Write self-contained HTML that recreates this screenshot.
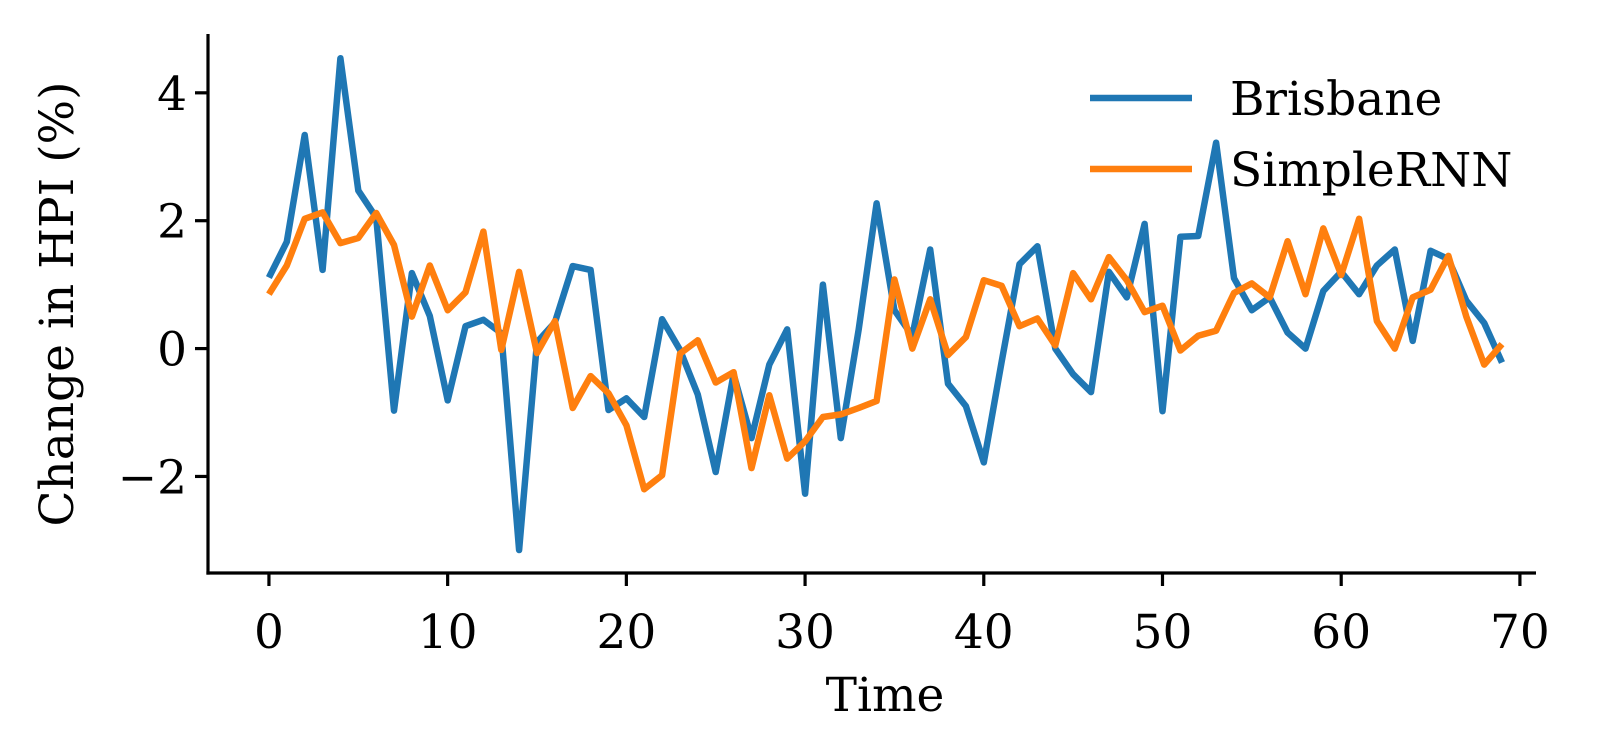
<!DOCTYPE html>
<html><head><meta charset="utf-8"><style>
html,body{margin:0;padding:0;background:#fff;}
svg{display:block;font-family:"DejaVu Serif","Liberation Serif",serif;}
</style></head><body>
<svg id="chart" width="1598" height="756" viewBox="0 0 1598 756" xmlns="http://www.w3.org/2000/svg"></svg>
<script>
const timeSteps = Array.from({length:70},(_,i)=>i);
const brisbane = [1.11,1.67,3.34,1.23,4.54,2.47,2.05,-0.97,1.18,0.51,-0.81,0.35,0.45,0.24,-3.15,0.1,0.41,1.29,1.23,-0.96,-0.78,-1.07,0.46,-0.02,-0.72,-1.93,-0.4,-1.4,-0.25,0.3,-2.27,1.0,-1.4,0.3,2.27,0.6,0.2,1.55,-0.55,-0.9,-1.78,-0.2,1.32,1.6,0.0,-0.4,-0.68,1.2,0.8,1.95,-0.98,1.75,1.76,3.22,1.1,0.6,0.8,0.25,0.0,0.9,1.2,0.85,1.3,1.55,0.12,1.53,1.4,0.75,0.4,-0.22];
const simpleRNN = [0.85,1.3,2.03,2.13,1.65,1.73,2.12,1.62,0.5,1.3,0.6,0.88,1.83,-0.02,1.2,-0.07,0.43,-0.93,-0.43,-0.7,-1.2,-2.2,-1.98,-0.08,0.13,-0.53,-0.37,-1.87,-0.73,-1.72,-1.45,-1.07,-1.03,-0.93,-0.82,1.08,0.0,0.77,-0.1,0.18,1.07,0.98,0.35,0.47,0.05,1.18,0.77,1.43,1.07,0.57,0.67,-0.03,0.2,0.28,0.87,1.02,0.8,1.68,0.85,1.88,1.15,2.03,0.43,0.0,0.8,0.92,1.45,0.5,-0.25,0.07];
const xTicks = [0,10,20,30,40,50,60,70];
const yTicks = [-2,0,2,4];
const seriesNames = ["Brisbane","SimpleRNN"];

const NS="http://www.w3.org/2000/svg";
const svg=document.getElementById('chart');
const X0=208,X1=1536,Y0=34,Y1=573;
const xMin=-3.41,xMax=70.9,yMin=-3.51,yMax=4.92;
const sx=v=>X0+(v-xMin)/(xMax-xMin)*(X1-X0);
const sy=v=>Y1-(v-yMin)/(yMax-yMin)*(Y1-Y0);
function mk(tag,attrs){const e=document.createElementNS(NS,tag);for(const k in attrs)e.setAttribute(k,attrs[k]);svg.appendChild(e);return e;}
const FS=47;

function drawLine(vals,color,name){
  const p=mk('polyline',{points:vals.map((v,i)=>sx(timeSteps[i]).toFixed(1)+','+sy(v).toFixed(1)).join(' '),fill:'none',stroke:color,'stroke-width':6.5,'stroke-linejoin':'round'});
  
  
}
drawLine(brisbane,'#1f77b4','brisbane-line');
drawLine(simpleRNN,'#ff7f0e','simplernn-line');

let a=mk('line',{x1:X0,y1:Y0,x2:X0,y2:Y1+1.6,stroke:'#000','stroke-width':3.2});


a=mk('line',{x1:X0-1.6,y1:Y1,x2:X1,y2:Y1,stroke:'#000','stroke-width':3.2});



xTicks.forEach(t=>{
  const x=sx(t);
  const l=mk('line',{x1:x,y1:Y1,x2:x,y2:Y1+13,stroke:'#000','stroke-width':3.2});
  
  
  const tx=mk('text',{x:x,y:648,'text-anchor':'middle','font-size':FS,fill:'#000'});
  tx.textContent=t;
  
  
});
yTicks.forEach(t=>{
  const y=sy(t);
  const l=mk('line',{x1:X0-13,y1:y,x2:X0,y2:y,stroke:'#000','stroke-width':3.2});
  
  
  const tx=mk('text',{x:X0-21,y:y+17,'text-anchor':'end','font-size':FS,fill:'#000'});
  tx.textContent=t<0?'\u2212'+Math.abs(t):t;
  
  
});

let t=mk('text',{x:885,y:711,'text-anchor':'middle','font-size':FS,fill:'#000'});
t.textContent='Time';


t=mk('text',{x:0,y:0,'text-anchor':'middle','font-size':FS,fill:'#000',transform:'translate(73,304) rotate(-90)'});
t.textContent='Change in HPI (%)';



const legColors=['#1f77b4','#ff7f0e'];
const legY=[98,169];
seriesNames.forEach((n,i)=>{
  const l=mk('line',{x1:1090,y1:legY[i],x2:1192,y2:legY[i],stroke:legColors[i],'stroke-width':6.5});
  
  
  const tx=mk('text',{x:1230,y:legY[i]+17,'font-size':FS,fill:'#000'});
  tx.textContent=n;
  
  
});
</script>
</body></html>
